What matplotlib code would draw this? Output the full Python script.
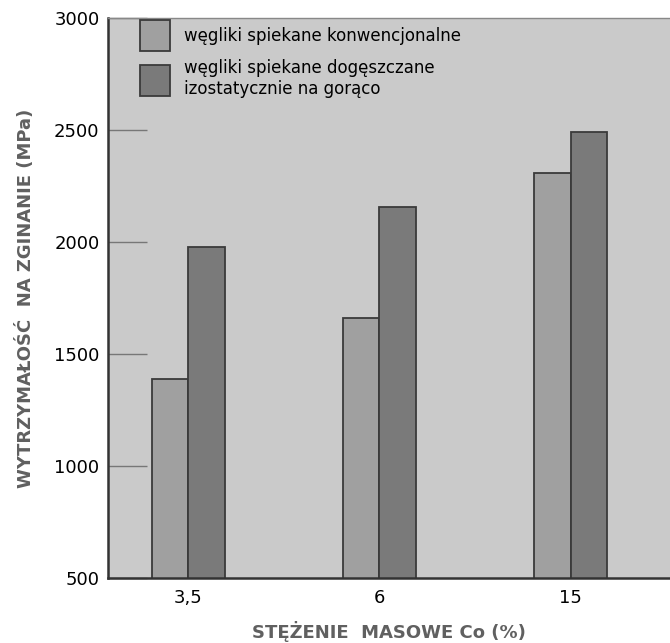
import matplotlib.pyplot as plt
import numpy as np
from matplotlib.patches import Patch

# data
stezenie = ["3,5", "6", "15"]
konwencjonalne = [1390, 1660, 2310]
hip = [1980, 2155, 2490]
series_labels = ["węgliki spiekane konwencjonalne",
                 "węgliki spiekane dogęszczane\nizostatycznie na gorąco"]
yticks = [500, 1000, 1500, 2000, 2500, 3000]

plt.rcParams['font.family'] = ['DejaVu Sans']

fig = plt.figure(figsize=(6.7, 6.43), dpi=100)
ax = fig.add_axes([0.161, 0.101, 0.839, 0.871])
ax.set_facecolor("#cacaca")

x = np.arange(len(stezenie))
w = 0.19
ax.bar(x - w / 2, konwencjonalne, w, bottom=0, color="#a0a0a0",
       edgecolor="#3a3a3a", linewidth=1.3)
ax.bar(x + w / 2, hip, w, bottom=0, color="#7a7a7a",
       edgecolor="#3a3a3a", linewidth=1.3)

ax.set_ylim(500, 3000)
ax.set_xlim(-0.42, 2.52)
ax.set_yticks(yticks)
ax.set_yticklabels([str(v) for v in yticks], fontsize=13)
ax.set_xticks(x)
ax.set_xticklabels(stezenie, fontsize=13)
ax.tick_params(axis="y", direction="in", length=28, width=1, color="#777777", pad=6)
ax.tick_params(axis="x", length=0, pad=8)

ax.spines["right"].set_visible(False)
ax.spines["top"].set_color("#888888")
ax.spines["top"].set_linewidth(1)
ax.spines["left"].set_linewidth(1.8)
ax.spines["left"].set_color("#333333")
ax.spines["bottom"].set_linewidth(1.8)
ax.spines["bottom"].set_color("#333333")

ax.set_ylabel("WYTRZYMAŁOŚĆ  NA ZGINANIE (MPa)", fontsize=13, fontweight="bold",
              color="#606060", labelpad=14)
ax.set_xlabel("STĘŻENIE  MASOWE Co (%)", fontsize=13, fontweight="bold",
              color="#606060", labelpad=10)

handles = [Patch(facecolor="#a0a0a0", edgecolor="#3a3a3a", linewidth=1.3),
           Patch(facecolor="#7a7a7a", edgecolor="#3a3a3a", linewidth=1.3)]
ax.legend(handles, series_labels, loc="upper left", bbox_to_anchor=(0.031, 1.023),
          frameon=False, fontsize=12, handlelength=1.8, handleheight=2.5,
          handletextpad=0.8, labelspacing=0.45)

fig.savefig("out.png", dpi=100)
